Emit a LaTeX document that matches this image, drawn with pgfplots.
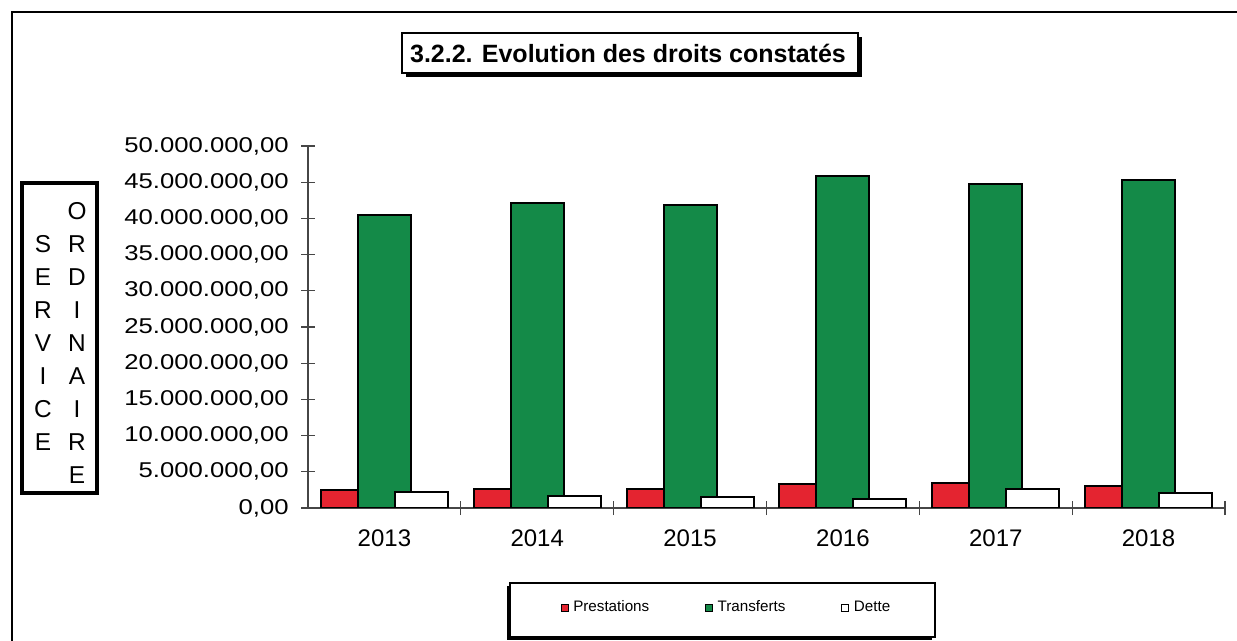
\documentclass[border=0pt]{standalone}
\usepackage{pgfplots}
\pgfplotsset{compat=1.18}
\usepackage{fontspec}
\setmainfont{Liberation Sans}
\newfontfamily\tickfont[FakeStretch=1.2]{Liberation Sans}
\definecolor{barred}{RGB}{228,36,48}
\definecolor{bargreen}{RGB}{20,138,72}
\definecolor{axgray}{RGB}{70,70,70}

\begin{document}
\begin{tikzpicture}
\useasboundingbox (0,0) rectangle (618.5bp,320.5bp);
\fill[white] (0,0) rectangle (618.5bp,320.5bp);
% outer frame (top and left edges visible)
\draw[line width=0.7bp] (6bp,0) -- (6bp,314.5bp) -- (618.5bp,314.5bp);
% title box with shadow
\fill[black] (203bp,282bp) rectangle (431bp,302bp);
\filldraw[fill=white, draw=black, line width=0.8bp] (201bp,284bp) rectangle (429bp,304bp);
\node[font=\bfseries\fontsize{12.5bp}{15bp}\selectfont] at (314bp,294bp) {3.2.2. Evolution des droits constatés};
% legend box with shadow
\fill[black] (253.5bp,0.5bp) rectangle (466bp,27.5bp);
\filldraw[fill=white, draw=black, line width=0.8bp] (255bp,2bp) rectangle (467.5bp,29bp);
% vertical label box
\draw[line width=1.8bp] (11bp,74bp) rectangle (48.5bp,229bp);
\foreach \l [count=\i from 0] in {S,E,R,V,I,C,E}{
  \pgfmathsetmacro{\yy}{198.5-16.5*\i}
  \node[font=\fontsize{12.2bp}{14bp}\selectfont, inner sep=0pt] at (21.5bp,\yy bp) {\l};}
\foreach \l [count=\i from 0] in {O,R,D,I,N,A,I,R,E}{
  \pgfmathsetmacro{\yy}{215-16.5*\i}
  \node[font=\fontsize{12.2bp}{14bp}\selectfont, inner sep=0pt] at (38.5bp,\yy bp) {\l};}

\begin{axis}[
  at={(154bp,66.5bp)}, anchor=south west,
  scale only axis, width=458.5bp, height=181bp,
  xmin=-0.5, xmax=5.5, ymin=0, ymax=50,
  axis x line=bottom, axis y line=left,
  axis line style={-, draw=axgray, line width=0.6bp},
  tick align=center,
  major tick length=7bp, minor tick length=7bp,
  tick style={draw=axgray, line width=0.6bp},
  xtick={0,1,2,3,4,5},
  xticklabels={2013,2014,2015,2016,2017,2018},
  major x tick style={draw=none},
  minor xtick={0.5,1.5,2.5,3.5,4.5,5.5},
  ytick={0,5,10,15,20,25,30,35,40,45,50},
  yticklabels={{0,00},{5.000.000,00},{10.000.000,00},{15.000.000,00},{20.000.000,00},{25.000.000,00},{30.000.000,00},{35.000.000,00},{40.000.000,00},{45.000.000,00},{50.000.000,00}},
  yticklabel style={font=\tickfont\fontsize{10.7bp}{12bp}\selectfont, anchor=east, inner sep=0pt, xshift=-6bp},
  xticklabel style={font=\fontsize{12bp}{14bp}\selectfont, anchor=base, inner sep=0pt, yshift=-15.5bp},
  legend columns=3,
  legend style={at={(axis description cs:0.4575,-0.276)}, anchor=center, draw=none, fill=none,
    font=\fontsize{7.6bp}{9bp}\selectfont, inner sep=0pt,
    /tikz/every odd column/.append style={column sep=0.3bp},
    /tikz/every even column/.append style={column sep=26bp}},
]
\addplot[ybar, bar width=26.5bp, bar shift=-18.5bp, fill=barred, draw=black, line width=1bp,
  legend image code/.code={\draw[fill=barred, draw=black, line width=0.5bp] (0bp,-1.7bp) rectangle (3.4bp,1.9bp);}]
  coordinates {(0,2.43) (1,2.66) (2,2.66) (3,3.30) (4,3.44) (5,3.03)};
\addlegendentry{Prestations}
\addplot[ybar, bar width=26.5bp, bar shift=0bp, fill=bargreen, draw=black, line width=1bp,
  legend image code/.code={\draw[fill=bargreen, draw=black, line width=0.5bp] (0bp,-1.7bp) rectangle (3.4bp,1.9bp);}]
  coordinates {(0,40.5) (1,42.1) (2,41.9) (3,45.8) (4,44.8) (5,45.3)};
\addlegendentry{Transferts}
\addplot[ybar, bar width=26.5bp, bar shift=18.5bp, fill=white, draw=black, line width=1bp,
  legend image code/.code={\draw[fill=white, draw=black, line width=0.5bp] (0bp,-1.7bp) rectangle (3.4bp,1.9bp);}]
  coordinates {(0,2.16) (1,1.70) (2,1.50) (3,1.24) (4,2.66) (5,2.07)};
\addlegendentry{Dette}
\end{axis}
\end{tikzpicture}
\end{document}
